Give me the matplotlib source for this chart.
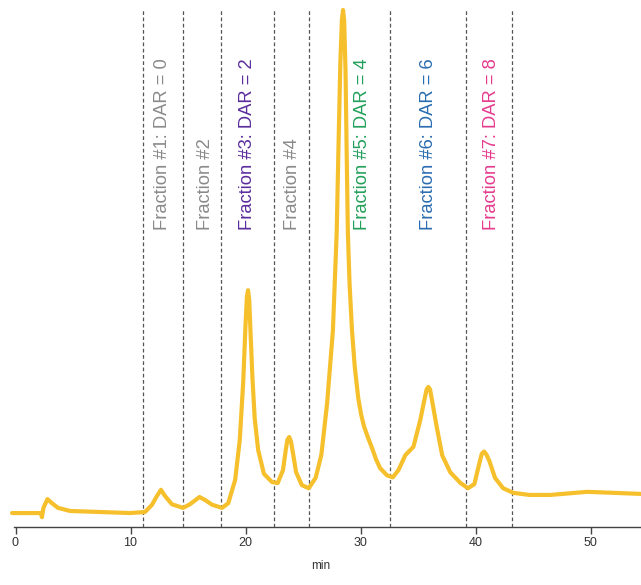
import matplotlib
matplotlib.use("Agg")
import matplotlib.pyplot as plt

# HIC chromatogram: retention time (min) and relative absorbance
time_min = [-0.30, 2.20, 2.30, 2.43, 2.78, 3.17, 3.70, 4.74, 7.35, 9.96,
            11.26, 11.87, 12.30, 12.65, 13.00, 13.60, 14.57, 15.17, 16.00, 16.50,
            17.10, 17.96, 18.50, 19.10, 19.50, 19.80, 20.00, 20.12, 20.22, 20.32,
            20.45, 20.60, 20.80, 21.10, 21.60, 22.30, 22.80, 23.26, 23.50, 23.65,
            23.80, 23.95, 24.15, 24.40, 24.90, 25.50, 26.10, 26.60, 27.10, 27.60,
            27.93, 28.10, 28.25, 28.38, 28.48, 28.58, 28.70, 28.80, 28.90, 29.05,
            29.26, 29.50, 29.80, 30.05, 30.30, 30.65, 31.00, 31.35, 31.70, 32.30,
            32.80, 33.30, 33.90, 34.60, 35.20, 35.50, 35.75, 35.90, 36.05, 36.30,
            36.60, 37.10, 37.80, 38.70, 39.35, 39.90, 40.30, 40.55, 40.75, 40.95,
            41.20, 41.70, 42.40, 43.30, 44.70, 46.50, 49.70, 52.10, 54.40]
signal = [2.7, 2.7, 1.9, 3.7, 5.4, 4.6, 3.7, 3.1, 2.9, 2.7,
          2.9, 4.3, 6.0, 7.2, 6.0, 4.4, 3.7, 4.4, 5.8, 5.2,
          4.3, 3.7, 4.6, 9.1, 16.8, 28.0, 39.0, 44.5, 45.8, 44.0,
          37.0, 29.0, 21.0, 14.9, 10.3, 8.7, 8.5, 11.0, 14.9, 16.9,
          17.4, 16.6, 14.0, 10.6, 8.1, 7.5, 9.5, 14.0, 24.0, 38.0,
          57.0, 75.0, 90.0, 98.0, 100.0, 98.0, 88.0, 72.0, 57.0, 47.0,
          38.0, 31.0, 25.0, 21.8, 19.5, 17.3, 15.3, 13.1, 11.4, 10.0,
          9.6, 11.0, 13.9, 15.5, 20.7, 24.0, 26.6, 27.1, 26.6, 23.5,
          19.7, 13.9, 10.6, 8.5, 7.5, 8.3, 12.0, 14.2, 14.6, 14.0,
          12.8, 9.5, 7.5, 6.6, 6.2, 6.2, 6.8, 6.6, 6.4]

# Fraction cut points (min)
fraction_bounds = [11.1, 14.6, 17.9, 22.5, 25.5, 32.6, 39.2, 43.2]

# Fraction labels, their centre times and colours
fraction_labels = ["Fraction #1: DAR = 0", "Fraction #2", "Fraction #3: DAR = 2",
                   "Fraction #4", "Fraction #5: DAR = 4", "Fraction #6: DAR = 6",
                   "Fraction #7: DAR = 8"]
label_times = [12.75, 16.5, 20.2, 24.1, 30.2, 35.9, 41.4]
label_colors = ["#8a8a8a", "#8a8a8a", "#5b2d9c", "#8a8a8a", "#22a05a", "#2a6db0", "#e63b8e"]

x_ticks = [0, 10, 20, 30, 40, 50]

plt.rcParams["font.family"] = ["Liberation Sans", "DejaVu Sans"]

W, H = 641, 585
fig = plt.figure(figsize=(W / 100, H / 100), dpi=100)
ax = fig.add_axes([0, (H - 527) / H, 1, 527 / H])

px_per_min = 11.5
x0_px = 15.5
ax.set_xlim((0 - x0_px) / px_per_min, (W - x0_px) / px_per_min)
ax.set_ylim(0, 527 / 5.17)

for b in fraction_bounds:
    ax.plot([b, b], [0, 100], color="#555555", lw=0.9, ls=(0, (3, 2)), zorder=1)

ax.plot(time_min, signal, color="#f6c02c", lw=3.0, solid_joinstyle="round",
        solid_capstyle="round", zorder=3)

for lab, t, c in zip(fraction_labels, label_times, label_colors):
    ax.text(t, 57.4, lab, rotation=90, ha="center", va="bottom",
            color=c, fontsize=13.2, zorder=4)

for s in ["top", "right", "left"]:
    ax.spines[s].set_visible(False)
ax.spines["bottom"].set_color("#444444")
ax.spines["bottom"].set_linewidth(1.0)
ax.spines["bottom"].set_bounds(-0.1, 54.4)
ax.set_yticks([])
ax.set_xticks(x_ticks)
ax.set_xticklabels([str(v) for v in x_ticks])
ax.tick_params(axis="x", direction="out", length=5, width=1.0, color="#444444",
               labelsize=9, labelcolor="#333333", pad=2)
ax.set_xlabel("min", fontsize=8.5, color="#333333", labelpad=8)

fig.savefig("out.png", dpi=100, facecolor="white")
